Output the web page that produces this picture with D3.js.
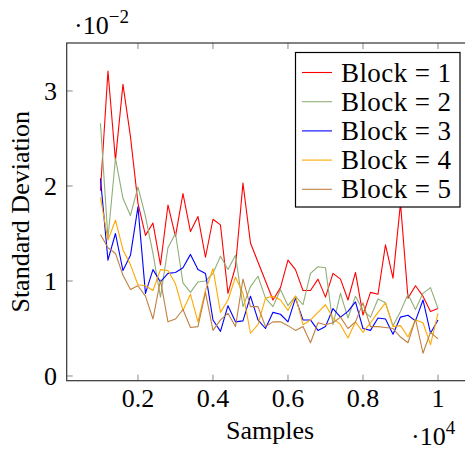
<!DOCTYPE html>
<html>
<head>
<meta charset="utf-8">
<script src="https://cdn.jsdelivr.net/npm/d3@7"></script>
<style>
  body { margin: 0; background: #fff; }
  svg text { font-family: "Liberation Serif", "Times New Roman", serif; fill: #000; }
</style>
</head>
<body>
<div id="chart"></div>
<script>
// sample counts on the x axis
const samples = [1000, 1200, 1400, 1600, 1800, 2000, 2200, 2400, 2600, 2800,
    3000, 3200, 3400, 3600, 3800, 4000, 4200, 4400, 4600, 4800,
    5000, 5200, 5400, 5600, 5800, 6000, 6200, 6400, 6600, 6800,
    7000, 7200, 7400, 7600, 7800, 8000, 8200, 8400, 8600, 8800,
    9000, 9200, 9400, 9600, 9800, 10000];

// standard deviation, in units of 1e-2
const block1 = [1.95, 3.21, 2.27, 3.07, 2.52, 1.82, 1.48, 1.61, 1.17, 1.80,
    1.47, 1.92, 1.52, 1.68, 1.25, 1.65, 1.59, 0.87, 1.15, 2.03,
    1.40, 1.20, 1.00, 0.80, 0.93, 1.22, 1.12, 0.90, 0.90, 1.02,
    0.83, 1.08, 1.02, 0.80, 1.09, 0.64, 0.88, 0.86, 1.38, 1.03,
    1.82, 0.82, 0.95, 0.84, 0.68, 0.71];
const block2 = [2.66, 1.45, 2.29, 1.87, 1.69, 1.99, 1.68, 1.29, 0.83, 1.35,
    1.50, 0.98, 0.88, 0.99, 1.00, 1.08, 1.26, 1.12, 1.27, 0.73,
    0.94, 1.05, 0.82, 0.73, 0.91, 0.74, 0.84, 0.75, 1.08, 1.15,
    1.14, 0.54, 0.87, 0.61, 0.84, 0.69, 0.62, 0.81, 0.77, 0.53,
    0.68, 0.86, 0.70, 0.87, 0.93, 0.71];
const block3 = [2.08, 1.22, 1.50, 1.11, 1.27, 1.78, 0.87, 1.12, 0.99, 1.08,
    1.09, 1.14, 1.28, 1.12, 1.08, 0.59, 0.47, 0.74, 0.57, 0.58,
    0.84, 0.59, 0.50, 0.67, 0.65, 0.57, 0.82, 0.59, 0.59, 0.48,
    0.52, 0.71, 0.62, 0.68, 0.78, 0.50, 0.48, 0.61, 0.60, 0.44,
    0.62, 0.64, 0.58, 0.80, 0.45, 0.59];
const block4 = [1.88, 1.43, 1.64, 1.33, 1.17, 0.96, 0.95, 0.90, 1.12, 1.11,
    0.97, 0.69, 0.86, 0.57, 0.90, 1.13, 0.67, 0.80, 1.04, 0.87,
    0.45, 0.54, 0.82, 0.84, 0.80, 0.69, 0.84, 0.54, 0.59, 0.67,
    0.75, 0.61, 0.54, 0.40, 0.57, 0.46, 0.56, 0.67, 0.77, 0.52,
    0.53, 0.41, 0.59, 0.56, 0.33, 0.66];
const block5 = [1.49, 1.35, 1.29, 1.06, 0.91, 0.95, 0.84, 0.60, 1.01, 0.57,
    0.60, 0.70, 0.51, 0.52, 0.88, 0.48, 0.59, 0.66, 0.52, 1.02,
    0.73, 0.73, 0.52, 0.57, 0.57, 0.53, 0.48, 0.52, 0.35, 0.56,
    0.54, 0.56, 0.62, 0.50, 0.57, 0.77, 0.52, 0.52, 0.51, 0.50,
    0.41, 0.35, 0.60, 0.24, 0.46, 0.39];

const blocks = [1, 2, 3, 4, 5];
const seriesValues = [block1, block2, block3, block4, block5];
const colors = ["#ff0000", "#8fae78", "#0000ff", "#ffa800", "#bf8040"];

const xTicks = [2000, 4000, 6000, 8000, 10000];
const xTickLabels = ["0.2", "0.4", "0.6", "0.8", "1"];
const yTicks = [0, 1, 2, 3];

const width = 465;
const height = 450;
const plotLeft = 66.7, plotTop = 43, plotRight = 471.75, plotBottom = 380.7;
const fontSize = 26;

const svg = d3.select("#chart")
    .append("svg")
    .attr("width", width)
    .attr("height", height);

const x = d3.scaleLinear()
    .domain([100, 10900])
    .range([plotLeft, plotRight]);

const y = d3.scaleLinear()
    .domain([-0.0495, 3.505])
    .range([plotBottom, plotTop]);

svg.append("clipPath")
    .attr("id", "plot-clip")
    .append("rect")
    .attr("x", plotLeft)
    .attr("y", plotTop)
    .attr("width", plotRight - plotLeft)
    .attr("height", plotBottom - plotTop);

// ticks (inside, mirrored)
const tickLen = 6;
const tickColor = "#888";
xTicks.forEach(t => {
    svg.append("line")
        .attr("x1", x(t)).attr("x2", x(t))
        .attr("y1", plotBottom).attr("y2", plotBottom - tickLen)
        .attr("stroke", tickColor).attr("stroke-width", 1);
    svg.append("line")
        .attr("x1", x(t)).attr("x2", x(t))
        .attr("y1", plotTop).attr("y2", plotTop + tickLen)
        .attr("stroke", tickColor).attr("stroke-width", 1);
});
yTicks.forEach(t => {
    svg.append("line")
        .attr("x1", plotLeft).attr("x2", plotLeft + tickLen)
        .attr("y1", y(t)).attr("y2", y(t))
        .attr("stroke", tickColor).attr("stroke-width", 1);
});

// lines
const line = d3.line()
    .x((d, i) => x(samples[i]))
    .y(d => y(d));

const plot = svg.append("g").attr("clip-path", "url(#plot-clip)");
seriesValues.forEach((vals, k) => {
    plot.append("path")
        .datum(vals)
        .attr("d", line)
        .attr("fill", "none")
        .attr("stroke", colors[k])
        .attr("stroke-width", 1.1)
        .attr("stroke-linejoin", "round");
});

// frame
svg.append("rect")
    .attr("x", plotLeft)
    .attr("y", plotTop)
    .attr("width", plotRight - plotLeft)
    .attr("height", plotBottom - plotTop)
    .attr("fill", "none")
    .attr("stroke", "#333")
    .attr("stroke-width", 1.2);

// tick labels
svg.append("g").selectAll("text")
    .data(xTicks)
    .enter().append("text")
    .attr("x", d => x(d))
    .attr("y", 407)
    .attr("text-anchor", "middle")
    .attr("font-size", fontSize)
    .text((d, i) => xTickLabels[i]);

svg.append("g").selectAll("text")
    .data(yTicks)
    .enter().append("text")
    .attr("x", 57)
    .attr("y", d => y(d) + 9)
    .attr("text-anchor", "end")
    .attr("font-size", fontSize)
    .text(d => d);

// axis labels
svg.append("text")
    .attr("x", 270)
    .attr("y", 439)
    .attr("text-anchor", "middle")
    .attr("font-size", fontSize)
    .text("Samples");

svg.append("text")
    .attr("transform", `translate(29,${(plotTop + plotBottom) / 2}) rotate(-90)`)
    .attr("text-anchor", "middle")
    .attr("font-size", fontSize)
    .text("Standard Deviation");

// scale factors
const yScaleLabel = svg.append("text")
    .attr("x", 74)
    .attr("y", 34)
    .attr("font-size", fontSize);
yScaleLabel.append("tspan").text("\u00b710");
yScaleLabel.append("tspan").attr("dy", -11).attr("font-size", 19).text("\u22122");

const xScaleLabel = svg.append("text")
    .attr("x", 411)
    .attr("y", 445)
    .attr("font-size", fontSize);
xScaleLabel.append("tspan").text("\u00b710");
xScaleLabel.append("tspan").attr("dy", -11).attr("font-size", 19).text("4");

// legend
const legendX = 295.5, legendY = 52.5, legendW = 164.5, legendH = 154.5;
const legend = svg.append("g");
legend.append("rect")
    .attr("x", legendX)
    .attr("y", legendY)
    .attr("width", legendW)
    .attr("height", legendH)
    .attr("fill", "#fff")
    .attr("stroke", "#000")
    .attr("stroke-width", 1.2);

blocks.forEach((b, k) => {
    const cy = 72.5 + k * 29.2;
    legend.append("line")
        .attr("x1", 302).attr("x2", 332)
        .attr("y1", cy).attr("y2", cy)
        .attr("stroke", colors[k])
        .attr("stroke-width", 1.1);
    legend.append("text")
        .attr("x", 341)
        .attr("y", cy + 9)
        .attr("font-size", 27)
        .attr("textLength", 110)
        .text(`Block = ${b}`);
});
</script>
</body>
</html>
